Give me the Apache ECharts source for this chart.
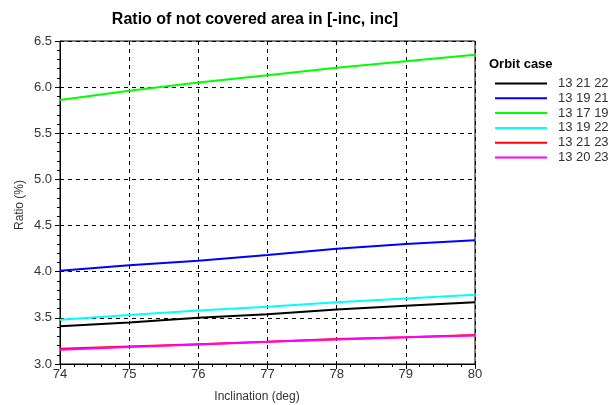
<!DOCTYPE html>
<html><head><meta charset="utf-8">
<script src="https://cdn.jsdelivr.net/npm/echarts@6/dist/echarts.min.js"></script>
<style>html,body{margin:0;padding:0;background:#fff}#c{width:613px;height:405px}</style>
</head><body><div id="c"></div>
<script>
const inclination = [74, 75, 76, 77, 78, 79, 80];
const seriesNames = ['13 21 22', '13 19 21', '13 17 19', '13 19 22', '13 21 23', '13 20 23'];
const seriesColors = ['#000000', '#0000ff', '#00ff00', '#00ffff', '#ff0000', '#ff00ff'];
const s_13_21_22 = [3.41, 3.45, 3.50, 3.54, 3.59, 3.63, 3.67];
const s_13_19_21 = [4.01, 4.07, 4.12, 4.18, 4.25, 4.30, 4.34];
const s_13_17_19 = [5.86, 5.96, 6.05, 6.13, 6.21, 6.28, 6.35];
const s_13_19_22 = [3.48, 3.53, 3.58, 3.62, 3.67, 3.71, 3.75];
const s_13_21_23 = [3.165, 3.19, 3.215, 3.24, 3.27, 3.29, 3.315];
const s_13_20_23 = [3.155, 3.185, 3.21, 3.24, 3.265, 3.29, 3.31];
const allValues = [s_13_21_22, s_13_19_21, s_13_17_19, s_13_19_22, s_13_21_23, s_13_20_23];

const font = 'Liberation Sans, Arial, sans-serif';
const chart = echarts.init(document.getElementById('c'));
chart.setOption({
  animation: false,
  backgroundColor: '#fff',
  title: [{
    text: 'Ratio of not covered area in [-inc, inc]',
    left: 255, top: 12, textAlign: 'center', padding: 0,
    textStyle: {fontFamily: font, fontSize: 16, fontWeight: 'bold', color: '#000'}
  }, {
    text: 'Orbit case', left: 489, top: 58, padding: 0,
    textStyle: {fontFamily: font, fontSize: 13, fontWeight: 'bold', color: '#000'}
  }],
  graphic: [{
    type: 'text', position: [257, 397], style: {
      text: 'Inclination (deg)', x: 0, y: 0, textAlign: 'center', textVerticalAlign: 'middle',
      font: '12px ' + font, fill: '#333'
    }
  }, {
    type: 'text', position: [20, 205], rotation: Math.PI / 2, style: {
      text: 'Ratio (%)', x: 0, y: 0, textAlign: 'center', textVerticalAlign: 'middle',
      font: '12px ' + font, fill: '#333'
    }
  }],
  legend: {
    orient: 'vertical', left: 495, top: 77, padding: 0,
    itemWidth: 52, itemHeight: 2, itemGap: 1.8,
    icon: 'rect',
    textStyle: {fontFamily: font, fontSize: 13, lineHeight: 12, color: '#333', padding: [0, 0, 0, 6]},
    data: seriesNames
  },
  grid: {left: 60, right: 138, top: 41, bottom: 41, show: true, borderColor: '#000', borderWidth: 1},
  xAxis: {
    type: 'value', min: 74, max: 80, interval: 1,
    axisLine: {show: true, lineStyle: {color: '#000'}},
    axisTick: {show: true, length: 5, lineStyle: {color: '#000'}},
    minorTick: {show: true, splitNumber: 5, length: 3, lineStyle: {color: '#000'}},
    axisLabel: {fontFamily: font, fontSize: 13, color: '#333', margin: 4},
    splitLine: {show: true, lineStyle: {color: '#000', type: [4, 4], width: 1}}
  },
  yAxis: {
    type: 'value', min: 3.0, max: 6.5, interval: 0.5,
    axisLine: {show: true, lineStyle: {color: '#000'}},
    axisTick: {show: true, length: 5, lineStyle: {color: '#000'}},
    minorTick: {show: true, splitNumber: 5, length: 3, lineStyle: {color: '#000'}},
    axisLabel: {fontFamily: font, fontSize: 13, color: '#333', margin: 8, formatter: v => v.toFixed(1)},
    splitLine: {show: true, lineStyle: {color: '#000', type: [4, 4], width: 1}}
  },
  series: seriesNames.map((n, i) => ({
    name: n, type: 'line', showSymbol: false, symbol: 'none',
    color: seriesColors[i],
    lineStyle: {width: 2, color: seriesColors[i]},
    data: inclination.map((x, j) => [x, allValues[i][j]])
  }))
});
</script></body></html>
